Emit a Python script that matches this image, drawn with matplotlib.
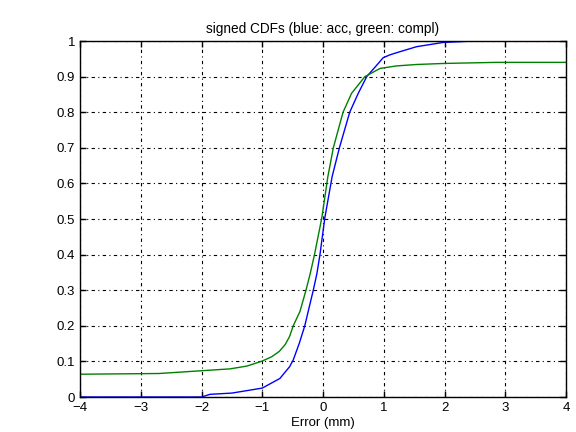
import matplotlib
matplotlib.use("Agg")
import matplotlib.pyplot as plt

# Blue: acc signed CDF
acc_x = [-4.0, -2.0, -1.86, -1.5, -1.0, -0.71, -0.55, -0.49, -0.39, -0.30, -0.16, -0.10, -0.05,
         0.03, 0.15, 0.27, 0.44, 0.58, 0.72, 0.91, 0.99, 1.10, 1.21, 1.54, 1.98, 2.5, 4.0]
acc_y = [0.0, 0.0, 0.0075, 0.011, 0.025, 0.052, 0.085, 0.104, 0.151, 0.2, 0.3, 0.347, 0.4,
         0.503, 0.619, 0.7, 0.8, 0.853, 0.9, 0.937, 0.953, 0.961, 0.967, 0.984, 0.996, 1.0, 1.0]
# Green: compl signed CDF
compl_x = [-4.0, -2.7, -1.89, -1.53, -1.25, -1.0, -0.845, -0.72, -0.62, -0.55, -0.49, -0.38, -0.28,
           -0.21, -0.14, -0.02, 0.08, 0.17, 0.33, 0.47, 0.69, 0.94, 1.21, 1.54, 2.0, 2.86, 4.0]
compl_y = [0.064, 0.066, 0.075, 0.079, 0.087, 0.101, 0.113, 0.128, 0.148, 0.17, 0.2, 0.24, 0.3,
           0.347, 0.4, 0.503, 0.619, 0.7, 0.8, 0.853, 0.9, 0.923, 0.93, 0.934, 0.937, 0.94, 0.94]

xticks = [-4, -3, -2, -1, 0, 1, 2, 3, 4]
yticks = [0, 0.1, 0.2, 0.3, 0.4, 0.5, 0.6, 0.7, 0.8, 0.9, 1]
ytick_labels = ["0", "0.1", "0.2", "0.3", "0.4", "0.5", "0.6", "0.7", "0.8", "0.9", "1"]
xtick_labels = ["\u22124", "\u22123", "\u22122", "\u22121", "0", "1", "2", "3", "4"]

plt.rcParams['font.family'] = ['Liberation Sans', 'DejaVu Sans']

fig = plt.figure(figsize=(5.76, 4.32), dpi=100)
ax = fig.add_axes([80/576, 1-397/432, 486/576, 356/432])
ax.plot(acc_x, acc_y, color='#0000ff', lw=1)
ax.plot(compl_x, compl_y, color='#008000', lw=1)
ax.set_xlim(-4, 4)
ax.set_ylim(0, 1)
ax.set_xticks(xticks)
ax.set_xticklabels(xtick_labels)
ax.set_yticks(yticks)
ax.set_yticklabels(ytick_labels)
ax.grid(True, color='black', linestyle=(0, (3, 3, 1, 3)), linewidth=0.8)
ax.tick_params(direction='in', top=True, right=True, labelsize=9.5, length=4, width=1)
for s in ax.spines.values():
    s.set_linewidth(1)
ax.set_xlabel("Error (mm)", fontsize=9.5, labelpad=2)
ax.set_title("signed CDFs (blue: acc, green: compl)", fontsize=9.8, pad=6)
fig.savefig("out.png", dpi=100)
